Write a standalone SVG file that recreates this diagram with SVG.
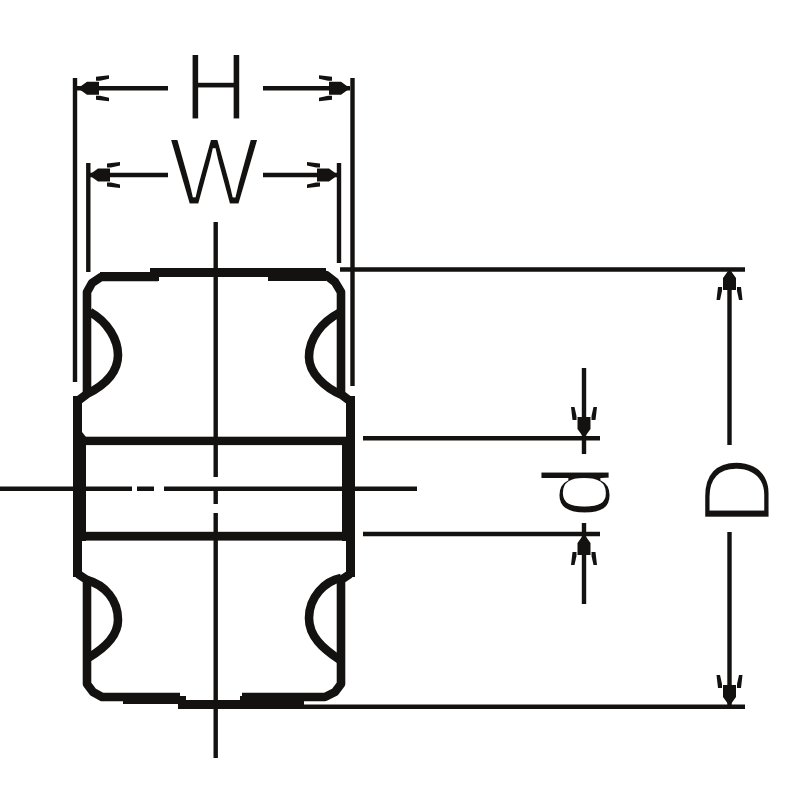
<svg xmlns="http://www.w3.org/2000/svg" xmlns:xlink="http://www.w3.org/1999/xlink" width="800" height="800" viewBox="0 0 800 800">
<style>
.l{stroke:#141211;stroke-width:4.4;fill:none}
.o{stroke:#141211;stroke-width:8.6;fill:none;stroke-linejoin:round}
.f{fill:#141211}
text{font-family:"Liberation Sans",Arial,sans-serif;font-size:96px;fill:#141211;stroke:#fff;stroke-width:2.8px}
</style>
<defs>
<path id="a" class="f" d="M0 0L9-6.500H21V6.500H9ZM18-11.500L31-13V-9.500L22-7.500H18ZM18 7.500H22L31 9.500V13L18 11.500Z"/>
</defs>
<rect width="800" height="800" fill="#fff"/>
<g id="body">
<path class="o" d="M87 393V292L92 283L101 277H158"/>
<path class="o" d="M341 393V292L335 282L326 275H270"/>
<path class="f" d="M150 268H326V281H268V277H159V281H100V272H150Z"/>
<path class="o" d="M90 312C108 322 118 340 118 355C118 372 105 385 87 394L79 400"/>
<path class="o" d="M339 313C322 322 309 338 309 357C309 373 325 388 342 395L350 401"/>
<path class="f" d="M73 396H82V432L86 437V541H82V577H73Z"/>
<path class="f" d="M346 396H355V577H346V541H342V437H346Z"/>
<rect class="f" x="73" y="436.700" width="282" height="8.400"/>
<rect class="f" x="73" y="531.800" width="282" height="8.800"/>
<path class="o" d="M78 574L87 580V684L93 692L102 697H180"/>
<path class="o" d="M350 574L341 580V684L335 692L325 697H242"/>
<path class="o" d="M87 580C105 585 118 600 118 620C118 636 105 648 88 658"/>
<path class="o" d="M341 578C325 581 309 597 309 618C309 636 322 648 340 660"/>
<path class="f" d="M180 696H186V700H240V696H304V705H300V709H178V704H123V700H180Z"/>
</g>
<g id="connectors">
<path class="l" d="M75 78V382M352.500 78V386M88.300 163V272M339 163V263"/>
<path class="l" d="M77 88.300H168M263 88.300H350M88 175H168M263 175H339"/>
<path class="l" d="M0 488.700H132M137 488.700H154M164 488.700H417"/>
<path class="l" d="M215.700 222V477M215.700 488V504M215.700 513V758"/>
<path class="l" d="M363 438.300H600M363 534H600M584 368V454M584 523V604"/>
<path class="l" d="M300 706.800H745M340 269.500H745M729.500 272V445M729.500 532V705"/>
<use xlink:href="#a" href="#a" transform="translate(78 88.300)"/>
<use xlink:href="#a" href="#a" transform="translate(350 88.300) scale(-1 1)"/>
<use xlink:href="#a" href="#a" transform="translate(89 175)"/>
<use xlink:href="#a" href="#a" transform="translate(338 175) scale(-1 1)"/>
<use xlink:href="#a" href="#a" transform="translate(584 438) rotate(-90)"/>
<use xlink:href="#a" href="#a" transform="translate(584 534) rotate(90)"/>
<use xlink:href="#a" href="#a" transform="translate(729.500 269) rotate(90)"/>
<use xlink:href="#a" href="#a" transform="translate(729.500 706) rotate(-90)"/>
</g>
<g id="labels">
<text transform="translate(216 120) scale(.92 1)" text-anchor="middle">H</text>
<text x="214" y="205" text-anchor="middle">W</text>
<text transform="translate(610 518) rotate(-90)">d</text>
<text transform="translate(770 526) rotate(-90)">D</text>
</g>
</svg>
